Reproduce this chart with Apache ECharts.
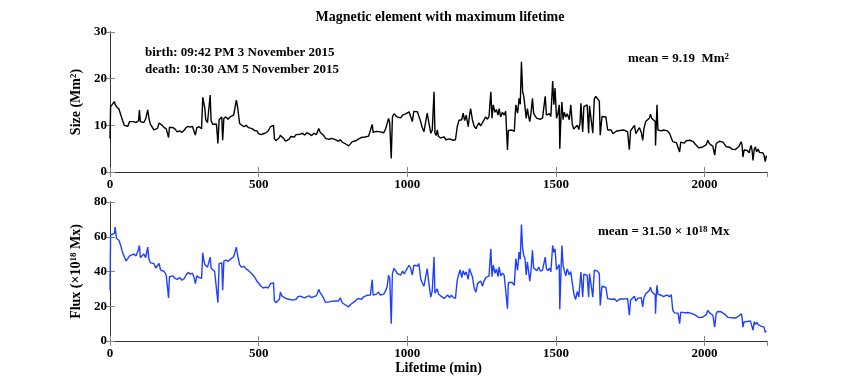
<!DOCTYPE html>
<html>
<head>
<meta charset="utf-8">
<script src="https://cdn.jsdelivr.net/npm/echarts@6/dist/echarts.min.js"></script>
<style>
html, body { margin: 0; padding: 0; background: #fff; }
#main { width: 847px; height: 387px; }
</style>
</head>
<body>
<div id="main"></div>
<script>
// lifetime in minutes, shared by both panels
const lifetime = [
    0, 2, 8, 15, 17, 22, 30, 36, 42, 48,
    54, 60, 66, 72, 80, 88, 96, 99, 102, 108,
    114, 120, 124, 127, 131, 136, 142, 148, 154, 160,
    165, 170, 176, 182, 189, 194, 197, 200, 206, 212,
    219, 226, 234, 242, 250, 256, 263, 270, 277, 282,
    287, 292, 300, 308, 312, 315, 319, 322, 328, 334,
    337, 340, 346, 352, 358, 363, 367, 373, 376, 379,
    383, 390, 397, 404, 410, 416, 421, 425, 429, 433,
    436, 442, 450, 458, 466, 472, 478, 486, 494, 500,
    508, 516, 524, 532, 540, 546, 550, 553, 558, 564,
    570, 573, 578, 584, 590, 596, 602, 608, 614, 620,
    626, 632, 640, 648, 655, 662, 670, 678, 686, 694,
    698, 702, 707, 713, 719, 725, 731, 737, 744, 750,
    756, 762, 768, 775, 781, 787, 793, 798, 803, 809,
    815, 821, 827, 834, 840, 846, 852, 858, 864, 870,
    876, 882, 885, 891, 897, 903, 909, 915, 921, 927,
    932, 937, 941, 946, 950, 955, 961, 966, 972, 978,
    984, 990, 996, 1000, 1006, 1011, 1017, 1022, 1028, 1034,
    1039, 1045, 1050, 1056, 1062, 1067, 1072, 1079, 1084, 1090,
    1093, 1097, 1101, 1105, 1112, 1118, 1124, 1130, 1136, 1142,
    1148, 1155, 1162, 1168, 1174, 1178, 1183, 1188, 1193, 1198,
    1205, 1209, 1213, 1219, 1225, 1231, 1236, 1241, 1247, 1253,
    1258, 1264, 1270, 1275, 1281, 1285, 1289, 1295, 1300, 1305,
    1309, 1314, 1320, 1326, 1331, 1337, 1340, 1346, 1352, 1360,
    1365, 1371, 1376, 1380, 1384, 1388, 1392, 1396, 1400, 1404,
    1408, 1412, 1416, 1421, 1425, 1430, 1436, 1442, 1448, 1455,
    1461, 1464, 1468, 1473, 1478, 1483, 1489, 1493, 1497, 1502,
    1507, 1511, 1513, 1517, 1520, 1524, 1528, 1533, 1538, 1545,
    1550, 1555, 1560, 1566, 1572, 1577, 1581, 1584, 1590, 1594,
    1600, 1605, 1610, 1613, 1618, 1624, 1629, 1634, 1640, 1646,
    1649, 1655, 1661, 1668, 1674, 1680, 1686, 1692, 1698, 1704,
    1710, 1716, 1722, 1728, 1734, 1741, 1747, 1751, 1757, 1764,
    1769, 1775, 1781, 1787, 1792, 1796, 1802, 1808, 1814, 1818,
    1822, 1828, 1834, 1835, 1838, 1840, 1843, 1848, 1855, 1862,
    1868, 1875, 1882, 1888, 1893, 1899, 1905, 1911, 1916, 1920,
    1926, 1932, 1938, 1944, 1950, 1956, 1962, 1968, 1974, 1980,
    1986, 1992, 1998, 2005, 2011, 2016, 2022, 2028, 2034, 2039,
    2044, 2050, 2056, 2062, 2067, 2073, 2079, 2085, 2092, 2098,
    2104, 2110, 2116, 2123, 2126, 2129, 2133, 2138, 2144, 2150,
    2154, 2157, 2160, 2163, 2167, 2171, 2175, 2180, 2185, 2190,
    2196, 2200, 2204, 2208
];

// size (Mm^2)
const sizeValues = [
    7.2, 14, 14.5, 15.1, 14.5, 14, 13.5, 13.3, 11.1, 10,
    10.2, 9.8, 10.8, 10.4, 10.8, 10.6, 11, 13.3, 10.8, 11.2,
    10.6, 11.4, 11, 13.3, 11.5, 10.2, 9.8, 9, 8.8, 9.4,
    10.5, 10.6, 10, 9.5, 9.3, 9.5, 7.4, 9.6, 9.8, 9.5,
    9.2, 8.6, 8.8, 8.5, 9, 9.5, 9.8, 9.6, 9.8, 9.4,
    7.9, 9.5, 9.7, 9.3, 16, 15, 13.6, 11.2, 10.6, 10.4,
    16.5, 11, 10.2, 9.8, 10.3, 6.1, 11.2, 11.5, 11.8, 6.8,
    11.5, 11.8, 11.3, 11.8, 12, 12.2, 12, 15.4, 14, 13.8,
    10.4, 10, 9.7, 10, 9.5, 9.6, 9.3, 8.9, 8.8, 8.2,
    8, 8.2, 8.4, 8.8, 9.7, 10, 10, 7.2, 6.7, 6.8,
    7.4, 7.9, 7.6, 7.2, 6.6, 6.9, 7, 7.6, 7.8, 7.5,
    8, 7.8, 8.1, 8.3, 7.9, 8.4, 8.2, 7.8, 8.3, 8,
    8.6, 9.3, 8.5, 8.3, 7.8, 7.2, 7.3, 7, 7.2, 6.8,
    7, 6.8, 6.6, 6.9, 6.4, 6.2, 6, 5.7, 5.6, 6,
    6.5, 6.8, 6.7, 7, 7.2, 7.4, 7.6, 7.5, 7.8, 7.7,
    7.9, 10.2, 8.5, 8.4, 8.7, 8.3, 8.6, 8.8, 8.4, 9.2,
    9.4, 11.5, 10.5, 2.9, 11.8, 12.5, 12.3, 11.8, 12, 11.6,
    12.2, 11.8, 12.5, 12.6, 12.9, 12.7, 10.8, 13, 13.2, 12.9,
    13.3, 10.8, 9.6, 8.6, 8.7, 12.6, 10.8, 8.3, 9, 17.2,
    8.4, 7.8, 9, 7.6, 7.3, 7.1, 7.5, 6.9, 7.3, 7.1,
    7.4, 6.8, 6.9, 9.7, 11.1, 10.8, 11.2, 12.6, 11, 12.2,
    9.7, 12, 13.6, 11.2, 9.8, 9.3, 10, 10.5, 9.9, 10.6,
    10.2, 11.8, 11.3, 11.9, 17.2, 11.5, 14.4, 12.8, 13.4, 12.2,
    13.6, 11.8, 12.8, 12.2, 13, 4.7, 8.9, 8.6, 9, 8.7,
    14.4, 12.6, 15.8, 14.5, 23.6, 17.2, 16.2, 15.8, 11.5, 13.6,
    12, 10.8, 12.5, 15.8, 12.6, 12, 11.5, 11.8, 11.3, 11.6,
    11.2, 16.2, 12.2, 11.8, 12.5, 11.9, 19.5, 14.4, 18, 11.5,
    12.6, 14.4, 5, 12, 15, 11.2, 12.8, 11.8, 12.5, 11.2,
    14.4, 10.2, 9.2, 8.9, 10, 9.1, 10.4, 14.7, 8.6, 14,
    13.8, 14.4, 8.3, 14.2, 14, 8.3, 15.6, 16.2, 15.8, 15.2,
    7.9, 11.9, 11.6, 11.8, 9, 8.6, 9, 8.2, 8.5, 8.8,
    8.6, 8.9, 8.7, 9, 8.8, 8.6, 4.8, 8.8, 8.6, 10,
    8.2, 8.9, 9.5, 8.5, 6.8, 9.3, 10.8, 11.2, 11.5, 12.4,
    11.5, 11.3, 10.8, 5.7, 11, 14.4, 9, 9.2, 8.8, 9,
    8.6, 8.8, 8.3, 8.6, 6.5, 6.1, 6.3, 6.1, 4.3, 6.4,
    6.6, 6.2, 6.7, 6.5, 6.8, 6.4, 6.5, 6, 5.6, 5.2,
    5.5, 5.3, 5.6, 5.8, 6.8, 6.1, 5.7, 5.5, 3.6, 6.1,
    6.4, 6.6, 6.2, 6.4, 6, 5.4, 5.1, 5.3, 4.9, 5.2,
    4.8, 5.1, 5.5, 6.5, 5.8, 3.2, 4.7, 4.3, 4.6, 4.1,
    5.2, 5.7, 4.5, 2.5, 4.8, 5.4, 4.3, 4.9, 4.2, 4,
    4.1, 3.6, 2.2, 3.5
];

// flux (x10^18 Mx)
const fluxValues = [
    29, 61, 60, 62, 65.6, 59, 58, 55, 51, 50,
    46, 47, 49, 48, 50, 49, 53, 55, 48, 47,
    50, 48, 49, 54, 47, 45, 44, 44.5, 42, 43,
    44.6, 41, 40.5, 40, 38, 37.8, 24.8, 37, 36.5, 37.5,
    36, 35.5, 36.5, 35, 36, 38, 39.5, 38.5, 39, 37,
    33, 37.5, 36.5, 36, 50.8, 47, 44, 43, 42.5, 42,
    48.3, 42, 41, 40, 39.5, 22, 44.5, 45.5, 45, 29.2,
    46, 46.5, 45.8, 47, 47.5, 48.5, 48, 54, 49.5, 49,
    44, 42.5, 43, 41.5, 40.5, 39.5, 38.5, 37, 34.5, 33.5,
    31.5, 30.5, 31, 30.5, 33, 34, 33.5, 23.4, 22, 22.5,
    24, 28.2, 26, 25, 24.6, 25.5, 24, 23, 23.5, 24.5,
    24, 25.5, 25.8, 25.2, 24.8, 25.5, 26, 25, 25.6, 26,
    27.5, 29.7, 27.8, 26.3, 24.5, 22.2, 21.5, 22.5, 22.8, 22,
    23, 22.4, 23, 24.8, 22, 21.2, 20.6, 19.6, 19.6, 21,
    22, 22.5, 23, 24.5, 24.8, 24, 25.3, 25, 26.3, 26,
    26.5, 35.3, 26.5, 27.5, 27, 28.2, 26.5, 27.5, 27, 29,
    31, 37.8, 36, 10, 38.8, 41.7, 40.5, 38.8, 39.5, 38,
    40.2, 38.6, 40.7, 39.7, 43.6, 42, 38, 43.6, 42.5, 43.2,
    44.5, 36, 33.5, 31.5, 32, 41.7, 34, 25.3, 29, 48.3,
    27.5, 28, 30, 27, 26, 25.5, 24.5, 25.5, 26.5, 25,
    26.3, 25, 24.5, 35, 39, 41, 36.5, 40.5, 38, 39.8,
    35.5, 41.7, 42.6, 37, 30.5, 28, 33, 32, 34.5, 31.5,
    34.5, 36.5, 36, 37.5, 53, 37, 43.6, 39, 41.5, 37,
    42.6, 37.5, 39, 37.8, 38.5, 18.6, 33.5, 32.5, 33.8, 32,
    47.4, 40.7, 51.2, 47, 67, 53, 49, 47.5, 38, 45.5,
    40, 34.5, 40, 52.2, 42, 41, 40.5, 42.6, 40.2, 40.8,
    40, 48.3, 41.7, 40.5, 42, 39.7, 55, 51, 53, 41,
    40, 44, 18.2, 40, 55, 43.6, 40.7, 37.5, 41.5, 38,
    40, 33.5, 27.5, 23.8, 28.5, 25.3, 33.5, 39.7, 25.3, 38.5,
    39.5, 37.8, 25.3, 38.8, 39, 25.3, 40.7, 39.8, 40.2, 38.7,
    20.5, 31.5, 32.5, 30.8, 24.4, 23.5, 24, 23, 24.2, 22.8,
    23.8, 24.2, 23.5, 24.2, 23.6, 24.4, 14.8, 23.5, 24, 25.8,
    23, 24.5, 23.8, 25, 19.6, 24.8, 27.2, 28.2, 29, 31,
    28.5, 29, 26.5, 15.7, 28, 32, 27, 26.5, 26.2, 25.6,
    26, 26.5, 25.4, 26.7, 17.7, 16.2, 15.5, 16, 10, 16.6,
    15.5, 16.3, 17, 16.4, 16.8, 15.9, 16.6, 15, 14, 13.5,
    14.3, 13.6, 14.5, 15, 17.7, 16.3, 15.5, 14.8, 8, 15.8,
    17, 17.7, 16.8, 16.2, 15.5, 14.4, 13.6, 14.2, 13.4, 14,
    13.2, 13.8, 14.5, 15.7, 14, 8, 11, 10.5, 11.2, 10.2,
    11.6, 12, 10.5, 6.2, 11, 9.5, 10.8, 9.4, 9, 8.6,
    8.8, 8, 5, 5.8
];

const xMax = 2210;
const sizeMax = 30;
const fluxMax = 80;

const chart = echarts.init(document.getElementById('main'));

const font = 'Liberation Serif';
const txt = { color: '#000', fontFamily: font, fontWeight: 'bold', fontSize: 13 };
const nameTxt = Object.assign({}, txt, { fontSize: 14 });
const supStyle = { fontFamily: font, fontWeight: 'bold', fontSize: 9, verticalAlign: 'top', color: '#000' };

// axis helper: ticks point inward like matlab
function xAx(grid, pos, labels, extra) {
    return Object.assign({
        type: 'value', gridIndex: grid, position: pos,
        min: 0, max: xMax, interval: 500,
        axisLine: { show: true, lineStyle: { color: '#333', width: 1 } },
        axisTick: { show: true, inside: true, length: 5, lineStyle: { color: '#888' } },
        axisLabel: Object.assign({ show: labels, margin: 6, showMaxLabel: false, formatter: v => String(v) }, txt),
        splitLine: { show: false }
    }, extra || {});
}
function yAx(grid, pos, max, step, labels, extra) {
    return Object.assign({
        type: 'value', gridIndex: grid, position: pos,
        min: 0, max: max, interval: step,
        axisLine: { show: true, lineStyle: { color: '#333', width: 1 } },
        axisTick: { show: true, inside: true, length: 5, lineStyle: { color: '#888' } },
        axisLabel: Object.assign({ show: labels, margin: 3 }, txt),
        splitLine: { show: false }
    }, extra || {});
}

const option = {
    animation: false,
    backgroundColor: '#fff',
    grid: [
        { left: 110, right: 80, top: 32, height: 140 },
        { left: 110, right: 80, top: 202, height: 139 }
    ],
    xAxis: [
        xAx(0, 'bottom', true),
        xAx(0, 'top', false),
        xAx(1, 'bottom', true, {
            name: 'Lifetime (min)', nameLocation: 'middle', nameGap: 18,
            nameTextStyle: nameTxt
        }),
        xAx(1, 'top', false)
    ],
    yAxis: [
        yAx(0, 'left', sizeMax, 10, true, {
            name: 'Size (Mm{sup|2})', nameLocation: 'middle', nameGap: 17,
            nameTextStyle: Object.assign({ rich: { sup: supStyle } }, nameTxt)
        }),
        yAx(0, 'right', sizeMax, 10, false),
        yAx(1, 'left', fluxMax, 20, true, {
            name: 'Flux (\u00d710{sup|18} Mx)', nameLocation: 'middle', nameGap: 17,
            nameTextStyle: Object.assign({ rich: { sup: supStyle } }, nameTxt)
        }),
        yAx(1, 'right', fluxMax, 20, false)
    ],
    series: [
        {
            type: 'line', xAxisIndex: 0, yAxisIndex: 0,
            data: lifetime.map((t, i) => [t, sizeValues[i]]),
            showSymbol: false,
            lineStyle: { color: '#000', width: 1.4 }
        },
        {
            type: 'line', xAxisIndex: 2, yAxisIndex: 2,
            data: lifetime.map((t, i) => [t, fluxValues[i]]),
            showSymbol: false,
            lineStyle: { color: '#2040ff', width: 1.4 }
        }
    ],
    graphic: [
        {
            type: 'text', x: 440, y: 17,
            style: Object.assign({ text: 'Magnetic element with maximum lifetime', align: 'center', verticalAlign: 'middle' }, nameTxt, { fill: '#000' })
        },
        {
            type: 'text', x: 145, y: 53,
            style: Object.assign({ text: 'birth: 09:42 PM 3 November 2015', verticalAlign: 'middle' }, txt, { fill: '#000' })
        },
        {
            type: 'text', x: 145, y: 70,
            style: Object.assign({ text: 'death: 10:30 AM 5 November 2015', verticalAlign: 'middle' }, txt, { fill: '#000' })
        },
        {
            type: 'text', x: 628, y: 59,
            style: Object.assign({ text: 'mean = 9.19  Mm{sup|2}', verticalAlign: 'middle', rich: { sup: supStyle } }, txt, { fill: '#000' })
        },
        {
            type: 'text', x: 598, y: 232,
            style: Object.assign({ text: 'mean = 31.50 \u00d7 10{sup|18} Mx', verticalAlign: 'middle', rich: { sup: supStyle } }, txt, { fill: '#000' })
        }
    ]
};

chart.setOption(option);
</script>
</body>
</html>
